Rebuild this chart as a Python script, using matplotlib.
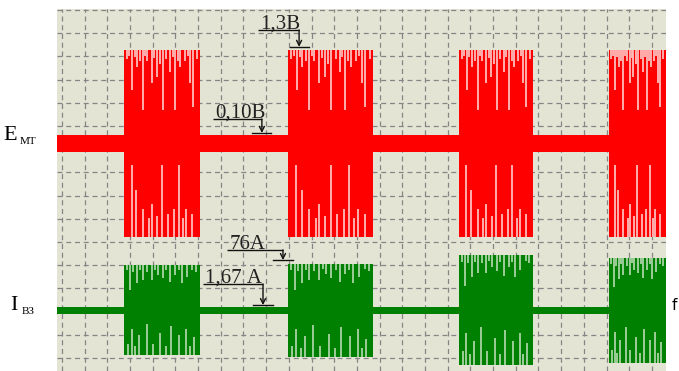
import matplotlib
matplotlib.use('Agg')
import matplotlib.pyplot as plt

# Coordinates in oscilloscope grid divisions (x: time divisions, y: divisions from top)
burst_starts = [2.73, 9.96, 17.50, 24.11]
burst_ends = [6.08, 13.71, 20.76, 26.60]

e_center = 5.75
e_base_half = 0.37
e_tops = [1.72, 1.72, 1.72, 1.72]
e_bottoms = [9.78, 9.78, 9.78, 9.78]

i_center = 12.97
i_base_half = 0.15
i_tops = [10.99, 10.95, 10.56, 10.69]
i_bottoms = [14.87, 14.96, 15.30, 15.22]

# light streaks (gaps in oscillation) : relative position in burst, relative depth
e_top_streak_pos = [0.04, 0.07, 0.105, 0.14, 0.17, 0.21, 0.25, 0.28, 0.31, 0.37, 0.40, 0.43,
                    0.47, 0.51, 0.56, 0.61, 0.64, 0.67, 0.71, 0.74, 0.80, 0.84, 0.87, 0.91, 0.96]
e_top_streak_depth = [0.10, 0.06, 0.43, 0.08, 0.18, 0.12, 0.64, 0.07, 0.12, 0.35, 0.09, 0.29,
                      0.15, 0.64, 0.10, 0.24, 0.08, 0.64, 0.12, 0.18, 0.12, 0.07, 0.35, 0.61, 0.10]
e_bot_streak_pos = [0.10, 0.16, 0.25, 0.33, 0.37, 0.44, 0.50, 0.58, 0.66, 0.72, 0.78, 0.82, 0.90]
e_bot_streak_depth = [0.77, 0.50, 0.30, 0.20, 0.35, 0.22, 0.77, 0.25, 0.30, 0.77, 0.20, 0.30, 0.25]

i_top_streak_pos = [0.04, 0.08, 0.12, 0.17, 0.21, 0.25, 0.31, 0.37, 0.41, 0.45, 0.51, 0.56,
                    0.61, 0.67, 0.72, 0.76, 0.83, 0.90, 0.95]
i_top_streak_depth = [0.12, 0.55, 0.15, 0.40, 0.12, 0.33, 0.15, 0.33, 0.10, 0.22, 0.29, 0.12,
                      0.38, 0.22, 0.12, 0.40, 0.27, 0.11, 0.15]
i_bot_streak_pos = [0.05, 0.10, 0.15, 0.20, 0.30, 0.38, 0.48, 0.55, 0.62, 0.73, 0.82, 0.87, 0.92]
i_bot_streak_depth = [0.25, 0.60, 0.20, 0.45, 0.70, 0.25, 0.50, 0.20, 0.65, 0.45, 0.60, 0.20, 0.40]

# annotations: text, text x, underline y, arrow x, arrow tip y
ann_texts = ["1,3В", "0,10В", "76А", "1,67 А"]
ann_x0 = [8.64, 6.65, 7.27, 6.21]
ann_x1 = [10.45, 8.81, 9.74, 8.86]
ann_y = [0.86, 4.70, 10.34, 11.81]
ann_tip = [1.59, 5.30, 10.78, 12.72]

XLIM = (-0.22, 26.6)
YLIM = (15.56, -0.043)

fig = plt.figure(figsize=(6.79, 3.71), dpi=100)
ax = fig.add_axes([57 / 679, 0, (665.5 - 57) / 679, 1 - 9 / 371])
ax.set_facecolor('#e4e4d4')
ax.set_xlim(*XLIM)
ax.set_ylim(*YLIM)
ax.set_xticks(range(0, 27))
ax.set_yticks(range(0, 16))
ax.tick_params(length=0, labelbottom=False, labelleft=False)
for s in ax.spines.values():
    s.set_visible(False)
ax.set_axisbelow(True)
ax.grid(True, color='#858585', linestyle=(0, (4, 3)), lw=0.9)

RED = '#ff0000'
RED_L = '#ffbcbc'
GRN = '#008000'
GRN_L = '#a9d4a3'

# baselines
ax.fill_between(XLIM, e_center - e_base_half, e_center + e_base_half, color=RED, lw=0)
ax.fill_between(XLIM, i_center - i_base_half, i_center + i_base_half, color=GRN, lw=0)

for k in range(len(burst_starts)):
    x0, x1 = burst_starts[k], burst_ends[k]
    w = x1 - x0
    # red burst
    t, b = e_tops[k], e_bottoms[k]
    ax.fill_between([x0, x1], t, b, color=RED, lw=0)
    ax.vlines([x0 + p * w for p in e_top_streak_pos], t,
              [t + d * (e_center - t) for d in e_top_streak_depth], colors=RED_L, lw=1.3)
    ax.vlines([x0 + p * w for p in e_bot_streak_pos],
              [b - d * (b - e_center) for d in e_bot_streak_depth], b, colors=RED_L, lw=1.3)
    # green burst
    t, b = i_tops[k], i_bottoms[k]
    ax.fill_between([x0, x1], t, b, color=GRN, lw=0)
    ax.vlines([x0 + p * w for p in i_top_streak_pos], t,
              [t + d * (i_center - t) for d in i_top_streak_depth], colors=GRN_L, lw=1.3)
    ax.vlines([x0 + p * w for p in i_bot_streak_pos],
              [b - d * (b - i_center) for d in i_bot_streak_depth], b, colors=GRN_L, lw=1.3)

serif = ['Liberation Serif', 'DejaVu Serif']
for s, x0, x1, y, tip in zip(ann_texts, ann_x0, ann_x1, ann_y, ann_tip):
    ax.plot([x0, x1], [y, y], color='#111111', lw=1.0, solid_capstyle='butt')
    ax.annotate('', xy=(x1, tip), xytext=(x1, y),
                arrowprops=dict(arrowstyle='->', color='#111111', lw=1.0,
                                shrinkA=0, shrinkB=0, mutation_scale=9))
    ax.plot([x1 - 0.42, x1 + 0.42], [tip, tip], color='#111111', lw=1.0)
    ax.text(x0 + 0.1, y - 0.06, s, family=serif, fontsize=15, color='#222222',
            ha='left', va='baseline')

# channel labels
fig.text(3 / 679, 1 - 140 / 371, 'E', family=serif, fontsize=16, color='black', va='baseline')
fig.text(20 / 679, 1 - 144 / 371, 'МТ', family=serif, fontsize=8, color='black', va='baseline')
fig.text(10 / 679, 1 - 310 / 371, 'I', family=serif, fontsize=16, color='black', va='baseline')
fig.text(22 / 679, 1 - 314 / 371, 'ВЗ', family=serif, fontsize=8, color='black', va='baseline')
fig.text(672 / 679, 1 - 310 / 371, 'f', family=['DejaVu Sans'], fontsize=11, color='black', va='baseline')

fig.savefig('out.png', dpi=100, facecolor='white')
